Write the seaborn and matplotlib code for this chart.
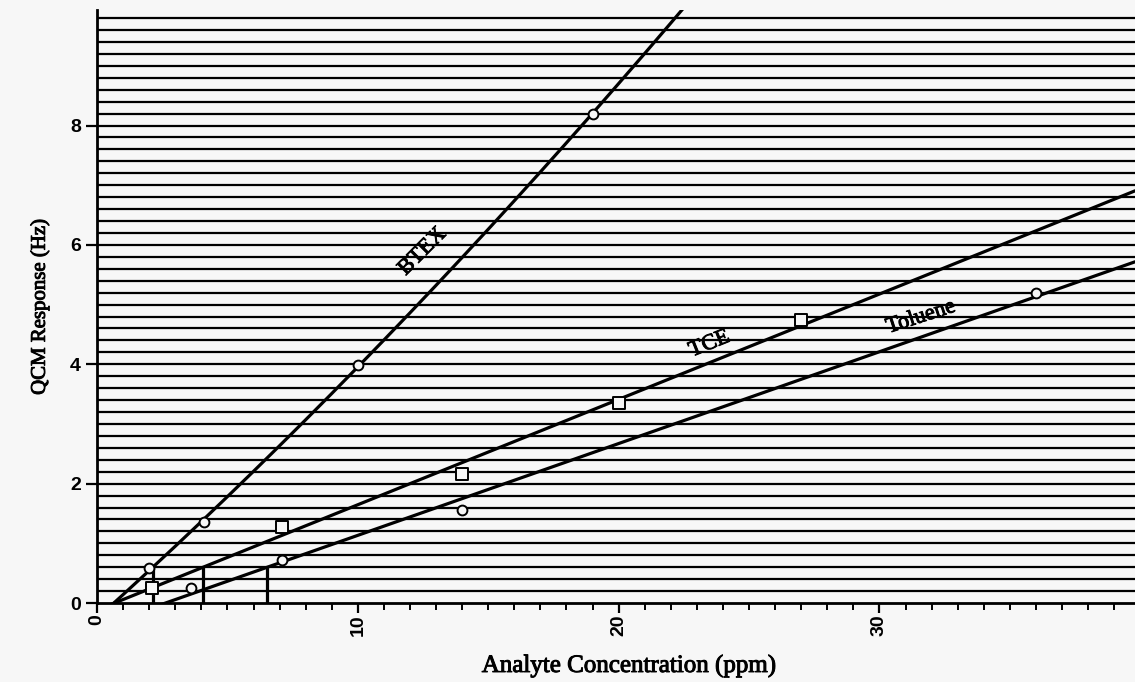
import numpy as np
import pandas as pd
import matplotlib
matplotlib.use("Agg")
import matplotlib.pyplot as plt
import matplotlib.patheffects as pe
import seaborn as sns

btex_conc = [2.0, 4.1, 10.0, 19.0]
btex_resp = [0.58, 1.35, 3.98, 8.2]
tce_conc = [2.1, 7.1, 14.0, 20.0, 27.0]
tce_resp = [0.25, 1.28, 2.17, 3.35, 4.75]
tol_conc = [3.6, 7.1, 14.0, 36.0]
tol_resp = [0.25, 0.72, 1.56, 5.19]

x_ticks = [0, 10, 20, 30]
x_tick_labels = ['0', '10', '20', '30']
y_ticks = [0, 2, 4, 6, 8]
y_tick_labels = ['0', '2', '4', '6', '8']

detect_level = 0.6      # horizontal cut-off line (Hz)
x_max, y_max = 39.8, 9.93

bg = '#f7f7f7'
sns.set_theme(style="ticks", rc={"axes.spines.right": False, "axes.spines.top": False})
plt.rcParams['font.family'] = ['Liberation Serif', 'DejaVu Serif']
plt.rcParams['text.color'] = 'black'
heavy = [pe.withStroke(linewidth=0.7, foreground='black')]
tick_font = dict(fontsize=14, fontweight='bold', family=['Liberation Sans', 'DejaVu Sans'],
                 color='black')

fig = plt.figure(figsize=(11.35, 6.82), dpi=100, facecolor=bg)
ax = fig.add_axes([0.0855, 0.1158, 0.9145, 0.869])
ax.set_facecolor(bg)
ax.set_xlim(0, x_max)
ax.set_ylim(0, y_max)

# ruled background lines of the scanned sheet
for yy in np.arange(0.2, 9.81, 0.2):
    ax.axhline(yy, color='black', lw=1.6, zorder=1)

# fitted calibration lines
xs = np.linspace(0, x_max, 400)
fits = {
    'BTEX': np.polyfit(btex_conc, btex_resp, 2),
    'TCE': np.polyfit(tce_conc, tce_resp, 1),
    'Toluene': np.polyfit(tol_conc, tol_resp, 1),
}
for name, coef in fits.items():
    fit_df = pd.DataFrame({'x': xs, 'y': np.polyval(coef, xs)})
    sns.lineplot(data=fit_df, x='x', y='y', ax=ax, color='black', lw=2.3, zorder=3)
    # detection-limit marker where the fit reaches the cut-off
    roots = np.roots(np.polysub(coef, [detect_level]))
    roots = [r.real for r in roots if abs(r.imag) < 1e-9 and 0 < r.real < x_max]
    xd = min(roots)
    ax.plot([xd, xd], [0, detect_level], color='black', lw=2.3, zorder=3)

pts = pd.concat([
    pd.DataFrame({'x': btex_conc, 'y': btex_resp, 'g': 'BTEX'}),
    pd.DataFrame({'x': tol_conc, 'y': tol_resp, 'g': 'Toluene'}),
])
sns.scatterplot(data=pts, x='x', y='y', ax=ax, marker='o', s=50, facecolor=bg,
                edgecolor='black', linewidth=1.4, zorder=4, legend=False)
sq = pd.DataFrame({'x': tce_conc, 'y': tce_resp})
sns.scatterplot(data=sq, x='x', y='y', ax=ax, marker='s', s=70, facecolor=bg,
                edgecolor='black', linewidth=1.4, zorder=4, legend=False)

# line labels
lab_kw = dict(ha='center', va='center', fontsize=16, color='black', zorder=5,
              path_effects=heavy)
ax.text(12.5, 5.88, 'BTEX', rotation=45, **lab_kw)
ax.text(23.5, 4.33, 'TCE', rotation=22, **lab_kw)
ax.text(31.6, 4.78, 'Toluene', rotation=18, **lab_kw)

# axes styling
for s in ['left', 'bottom']:
    ax.spines[s].set_linewidth(2)
    ax.spines[s].set_color('black')
ax.set_xticks(x_ticks)
ax.set_xticklabels(x_tick_labels, rotation=90, **tick_font)
ax.set_xticks(np.arange(0, 40, 1), minor=True)
ax.set_yticks(y_ticks)
ax.set_yticklabels(y_tick_labels, **tick_font)
ax.tick_params(axis='y', which='major', length=8, width=1.6, color='black')
ax.tick_params(axis='x', which='major', length=7, width=1.6, color='black', pad=1)
ax.tick_params(axis='x', which='minor', length=5, width=1.4, color='black')

ax.set_xlabel('Analyte Concentration (ppm)', fontsize=18, color='black', va='center',
              path_effects=heavy)
ax.xaxis.set_label_coords(0.5125, -0.106)
ax.set_ylabel('QCM Response (Hz)', fontsize=15, color='black', va='center',
              path_effects=heavy)
ax.yaxis.set_label_coords(-0.055, 0.50)

fig.savefig('out.png', dpi=100, facecolor=bg)
